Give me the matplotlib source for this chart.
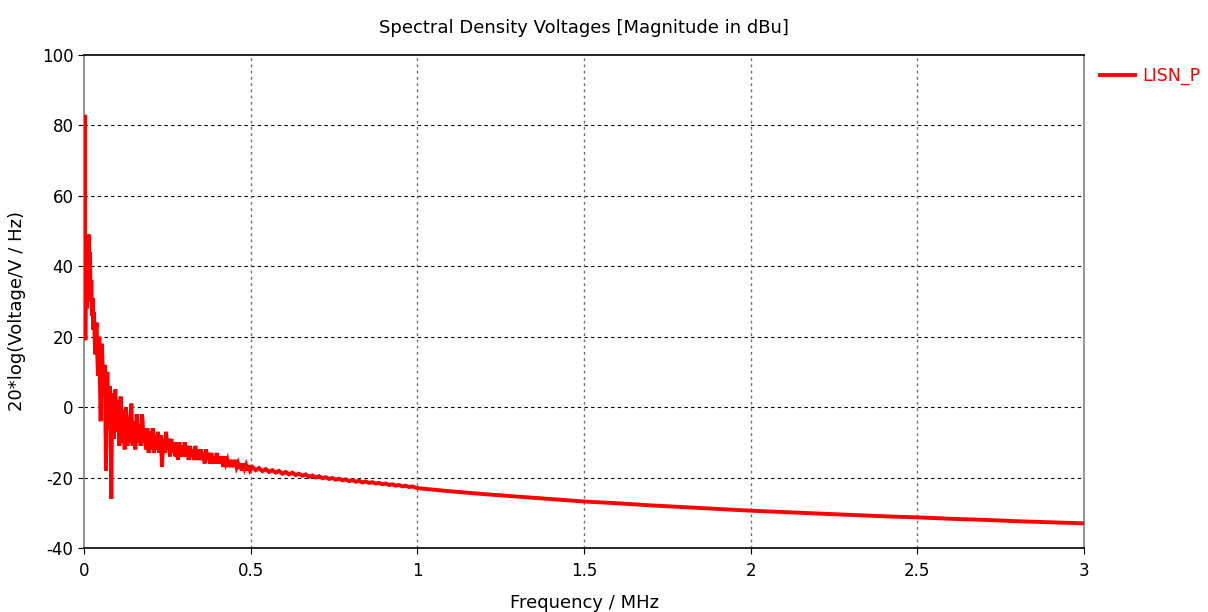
import numpy as np
import matplotlib
matplotlib.use("Agg")
import matplotlib.pyplot as plt

plt.rcParams['font.family'] = ['DejaVu Sans']
plt.rcParams['axes.unicode_minus'] = False
plt.rcParams['path.simplify'] = False

# Spectrum of the LISN_P voltage, in dB, sampled on several frequency grids (MHz)
# 0 .. 0.028 MHz, step 0.002
low_start, low_step = 0.000, 0.002
low_db = [22, 83, 19, 41, 28, 42, 30, 49, 33, 44, 30, 36, 26, 31, 22]

# 0.030 .. 0.298 MHz, step 0.002
mid_start, mid_step = 0.030, 0.002
mid_db = [
    27, 19, 15, 22, 24, 14, 9, 16, 20, 6,
    -4, 10, 18, 11, 3, 8, 12, -2, -18, 2,
    10, 3, -6, 1, 6, -9, -26, -3, 4, -4,
    -9, 0, 5, -1, -7, -3, 2, -5, -11, -4,
    3, -2, -10, -6, -1, -7, -12, -5, 0, -3,
    -11, -8, -3, -6, -10, -3, 1, -5, -11, -8,
    -4, -9, -12, -7, -2, -5, -10, -8, -5, -9,
    -11, -6, -2, -4, -9, -10, -6, -8, -12, -10,
    -6, -10, -13, -9, -7, -10, -12, -9, -6, -8,
    -13, -11, -8, -10, -12, -9, -7, -10, -13, -11,
    -8, -12, -17, -13, -9, -11, -13, -10, -7, -9,
    -12, -11, -9, -12, -14, -11, -9, -11, -13, -12,
    -10, -12, -14, -12, -10, -13, -15, -12, -10, -12,
    -14, -13, -11, -12, -14,
]

# 0.302 .. 0.498 MHz, step 0.004
upper_start, upper_step = 0.302, 0.004
upper_db = [
    -10, -14, -11, -15, -11, -14, -12, -15, -11, -15,
    -12, -15, -12, -15, -13, -16, -12, -15, -13, -16,
    -13, -16, -14, -16, -13, -16, -14, -16, -14, -17,
    -14, -16, -15, -17, -15, -17, -15, -17, -15, -17,
    -16, -17.5, -16, -18, -16, -17.5, -16.5, -18, -16.5, -18,
]

# 0.505 .. 0.995 MHz, step 0.01
high_start, high_step = 0.505, 0.01
high_db = [
    -17.0, -17.9, -17.3, -18.2, -17.6, -18.4, -17.9, -18.6, -18.1, -18.9,
    -18.4, -19.1, -18.6, -19.3, -18.9, -19.5, -19.1, -19.8, -19.4, -20.0,
    -19.6, -20.2, -19.9, -20.4, -20.1, -20.6, -20.3, -20.8, -20.5, -21.0,
    -20.7, -21.2, -20.9, -21.4, -21.1, -21.5, -21.3, -21.7, -21.5, -21.9,
    -21.7, -22.1, -21.9, -22.3, -22.1, -22.5, -22.3, -22.7, -22.5, -22.9,
]

# 1.0 .. 3.0 MHz, step 0.1
tail_start, tail_step = 1.0, 0.1
tail_db = [
    -23.0, -23.9, -24.7, -25.4, -26.1, -26.8, -27.3, -27.9, -28.4, -28.9,
    -29.4, -29.8, -30.2, -30.6, -31.0, -31.3, -31.7, -32.0, -32.4, -32.7,
    -33.0,
]

series_label = "LISN_P"
x_ticks = [0, 0.5, 1, 1.5, 2, 2.5, 3]
x_tick_labels = ["0", "0.5", "1", "1.5", "2", "2.5", "3"]
y_ticks = [-40, -20, 0, 20, 40, 60, 80, 100]


def grid_of(start, step, values):
    return start + step * np.arange(len(values))


freq = np.concatenate([
    grid_of(low_start, low_step, low_db),
    grid_of(mid_start, mid_step, mid_db),
    grid_of(upper_start, upper_step, upper_db),
    grid_of(high_start, high_step, high_db),
    grid_of(tail_start, tail_step, tail_db),
])
level = np.concatenate([low_db, mid_db, upper_db, high_db, tail_db]).astype(float)

fig = plt.figure(figsize=(12.08, 6.12), dpi=100)
ax = fig.add_axes([84 / 1208, 1 - 548 / 612, 1000 / 1208, 493 / 612])

ax.plot(freq, level, color="#ff0000", lw=2.8, label=series_label,
        solid_joinstyle="miter", zorder=3)

ax.set_xlim(0, 3)
ax.set_ylim(-40, 100)
ax.set_xticks(x_ticks)
ax.set_xticklabels(x_tick_labels)
ax.set_yticks(y_ticks)

# horizontal dashed black grid, vertical dotted grey grid
for yv in y_ticks[1:-1]:
    ax.axhline(yv, color="black", lw=0.8, ls=(0, (3, 3)), zorder=1)
for xv in x_ticks[1:-1]:
    ax.axvline(xv, color="#707070", lw=1.0, ls=(0, (2, 2.5)), zorder=1)

for side in ("top", "bottom"):
    ax.spines[side].set_color("black")
for side in ("left", "right"):
    ax.spines[side].set_color("#808080")
for s in ax.spines.values():
    s.set_linewidth(1.2)

ax.tick_params(axis="both", direction="out", length=4, width=0.8,
               labelsize=12, colors="black")
ax.tick_params(axis="x", pad=6)

ax.set_title("Spectral Density Voltages [Magnitude in dBu]", fontsize=13, pad=16)
ax.set_xlabel("Frequency / MHz", fontsize=13, labelpad=10)
ax.set_ylabel("20*log(Voltage/V / Hz)", fontsize=13)
ax.yaxis.set_label_coords(-0.058, 0.48)

ax.legend(loc="upper left", bbox_to_anchor=(1.004, 1.0), frameon=False,
          fontsize=12.5, handlelength=2.0, handletextpad=0.4,
          labelcolor="#ff0000", borderaxespad=0.3)

fig.savefig("out.png", dpi=100)
